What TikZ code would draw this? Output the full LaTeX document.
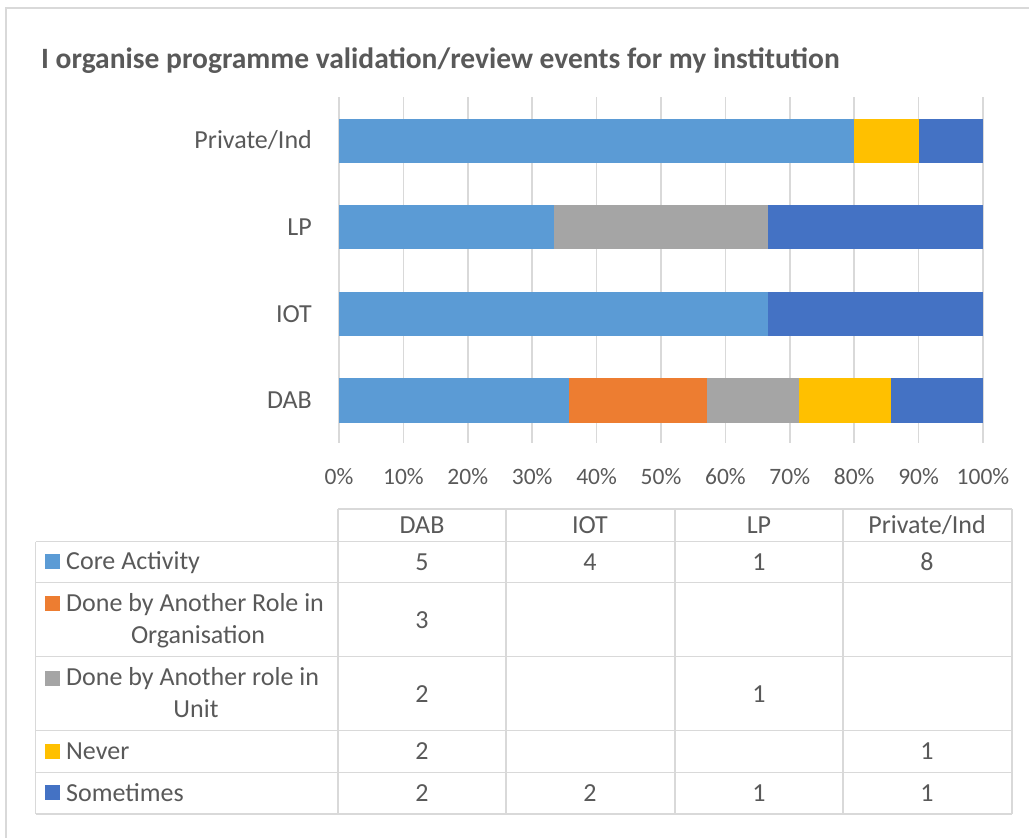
\documentclass[tikz,border=0pt]{standalone}
\usepackage{fontspec}
\setmainfont{Carlito}
\definecolor{coreblue}{HTML}{5B9BD5}
\definecolor{orgorange}{HTML}{ED7D31}
\definecolor{unitgray}{HTML}{A5A5A5}
\definecolor{nevergold}{HTML}{FFC000}
\definecolor{somedark}{HTML}{4472C4}
\definecolor{txtgray}{HTML}{595959}
\definecolor{gridgray}{HTML}{D9D9D9}

\begin{document}
\begin{tikzpicture}[x=1pt,y=-1pt,
    txt/.style={text=txtgray,font=\fontsize{26}{31}\selectfont,inner sep=0pt,text height=16.7pt,text depth=0pt},
    tick/.style={text=txtgray,font=\fontsize{23.5}{28}\selectfont,inner sep=0pt,text height=14.9pt,text depth=0pt},
    rule/.style={draw=gridgray,line width=1.5pt},
    swatch/.style={minimum size=15pt,inner sep=0pt}]
      \useasboundingbox (0,0) rectangle (1029,838);
      \draw[rule] (6,838) -- (6,8) -- (1029,8);
      \node[anchor=west,text=txtgray,font=\bfseries\fontsize{29.5}{35}\selectfont,inner sep=0pt,text height=19pt,text depth=0pt] (title) at (41,59) {I organise programme validation/review events for my institution};
      % grid and bars, x in percent
      \begin{scope}[shift={(339,0)},x=6.44pt]
        \foreach \p in {0,10,...,100}
          \draw[rule] (\p,97) -- (\p,443);
        \foreach \p [count=\i from 0] in {0,10,...,100}
          \node[tick] (tick\i) at (\p,476.7) {\p\%};
        % Private/Ind
        \fill[coreblue] (0,118.5) rectangle (80,162.5);
        \fill[nevergold] (80,118.5) rectangle (90,162.5);
        \fill[somedark] (90,118.5) rectangle (100,162.5);
        % LP
        \fill[coreblue] (0,205) rectangle (33.333,249.3);
        \fill[unitgray] (33.333,205) rectangle (66.667,249.3);
        \fill[somedark] (66.667,205) rectangle (100,249.3);
        % IOT
        \fill[coreblue] (0,291.7) rectangle (66.667,336);
        \fill[somedark] (66.667,291.7) rectangle (100,336);
        % DAB
        \fill[coreblue] (0,378.3) rectangle (35.714,422.7);
        \fill[orgorange] (35.714,378.3) rectangle (57.143,422.7);
        \fill[unitgray] (57.143,378.3) rectangle (71.429,422.7);
        \fill[nevergold] (71.429,378.3) rectangle (85.714,422.7);
        \fill[somedark] (85.714,378.3) rectangle (100,422.7);
      \end{scope}
      \node[txt,anchor=east] (catPriv) at (312,140) {Private/Ind};
      \node[txt,anchor=east] (catLP) at (312,226.7) {LP};
      \node[txt,anchor=east] (catIOT) at (312,313.7) {IOT};
      \node[txt,anchor=east] (catDAB) at (312,400.3) {DAB};
      % data table
      \draw[rule] (338,509) -- (1012,509);
      \foreach \r in {541.7,582.7,656.7,730.7,772.7,814}
        \draw[rule] (35.7,\r) -- (1012,\r);
      \draw[rule] (35.7,541.7) -- (35.7,814);
      \foreach \c in {338,506,675,843,1012}
        \draw[rule] (\c,509) -- (\c,814);
      \node[txt] (hDAB) at (422,525) {DAB};
      \node[txt] (hIOT) at (590,525) {IOT};
      \node[txt] (hLP) at (759,525) {LP};
      \node[txt] (hPriv) at (927,525) {Private/Ind};
      % legend column
      \node[swatch,fill=coreblue] (keyCore) at (52.5,561.5) {};
      \node[txt,anchor=west] (rowCore) at (66,561) {Core Activity};
      \node[swatch,fill=orgorange] (keyOrg) at (52.5,603) {};
      \node[txt,anchor=west] (rowOrg) at (66,603.3) {Done by Another Role in};
      \node[txt] (rowOrgB) at (198,635) {Organisation};
      \node[swatch,fill=unitgray] (keyUnit) at (52.5,678) {};
      \node[txt,anchor=west] (rowUnit) at (66,676.7) {Done by Another role in};
      \node[txt] (rowUnitB) at (196,709.3) {Unit};
      \node[swatch,fill=nevergold] (keyNever) at (52.5,751.5) {};
      \node[txt,anchor=west] (rowNever) at (66,751) {Never};
      \node[swatch,fill=somedark] (keySome) at (52.5,792.5) {};
      \node[txt,anchor=west] (rowSome) at (66,792.8) {Sometimes};
      % counts
      \node[txt] (coreDAB) at (422,561.7) {5};
      \node[txt] (coreIOT) at (590,561.7) {4};
      \node[txt] (coreLP) at (759,561.7) {1};
      \node[txt] (corePriv) at (927,561.7) {8};
      \node[txt] (orgDAB) at (422,620) {3};
      \node[txt] (unitDAB) at (422,694) {2};
      \node[txt] (unitLP) at (759,694) {1};
      \node[txt] (neverDAB) at (422,751) {2};
      \node[txt] (neverPriv) at (927,751) {1};
      \node[txt] (someDAB) at (422,792.8) {2};
      \node[txt] (someIOT) at (590,792.8) {2};
      \node[txt] (someLP) at (759,792.8) {1};
      \node[txt] (somePriv) at (927,792.8) {1};
    \end{tikzpicture}
\end{document}
